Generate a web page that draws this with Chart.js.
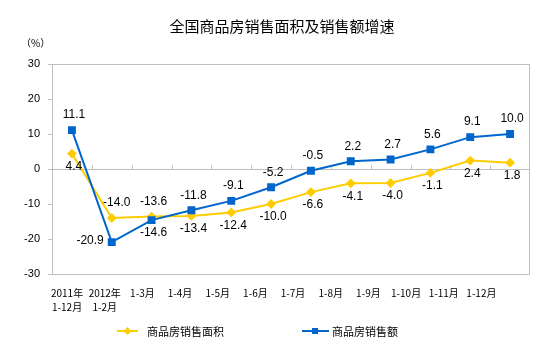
<!DOCTYPE html>
<html>
<head>
<meta charset="utf-8">
<script src="https://cdn.jsdelivr.net/npm/chart.js@4"></script>
<style>
  html, body { margin: 0; padding: 0; background: #fff; }
  #wrap { width: 554px; height: 352px; }
</style>
</head>
<body>
<div id="wrap"><canvas id="salesChart" width="554" height="352"></canvas></div>
<script>
const xLabels = [
    ['2011年', '1-12月'], ['2012年', '1-2月'], '1-3月', '1-4月', '1-5月', '1-6月',
    '1-7月', '1-8月', '1-9月', '1-10月', '1-11月', '1-12月'
];
const areaGrowth = [4.4, -14.0, -13.6, -13.4, -12.4, -10.0, -6.6, -4.1, -4.0, -1.1, 2.4, 1.8];
const salesGrowth = [11.1, -20.9, -14.6, -11.8, -9.1, -5.2, -0.5, 2.2, 2.7, 5.6, 9.1, 10.0];
const yTicks = [-30, -20, -10, 0, 10, 20, 30];

const seriesNames = ['商品房销售面积', '商品房销售额'];
const title = '全国商品房销售面积及销售额增速';

const yellow = '#FFCC00';
const blue = '#0066CC';
const gray = '#BFBFBF';
const cjk = '"Noto Sans CJK SC", "Noto Sans", sans-serif';

// where each value label sits relative to its point
const areaLabelPos = ['below', 'above', 'above', 'below', 'below', 'below', 'below', 'below', 'below', 'below', 'below', 'below'];
const salesLabelPos = ['above', 'left', 'below', 'above', 'above', 'above', 'above', 'above', 'above', 'above', 'above', 'above'];

const decorPlugin = {
    id: 'decor',
    beforeDatasetsDraw(chart) {
        const { ctx, chartArea: a, scales } = chart;
        ctx.save();
        ctx.strokeStyle = gray;
        ctx.lineWidth = 1;
        ctx.strokeRect(a.left + 0.5, a.top + 0.5, a.right - a.left - 1, a.bottom - a.top);
        // small category ticks on the zero line
        const y0 = Math.round(scales.y.getPixelForValue(0)) + 0.5;
        ctx.beginPath();
        for (let i = 1; i < xLabels.length; i++) {
            const x = Math.round((scales.x.getPixelForValue(i - 1) + scales.x.getPixelForValue(i)) / 2) + 0.5;
            ctx.moveTo(x, y0);
            ctx.lineTo(x, y0 - 4);
        }
        ctx.stroke();
        ctx.restore();
    },
    afterDatasetsDraw(chart) {
        const { ctx } = chart;
        ctx.save();
        ctx.fillStyle = '#000';
        ctx.font = '12px "Liberation Sans", Arial, sans-serif';
        ctx.textBaseline = 'middle';
        const sets = [[0, areaLabelPos], [1, salesLabelPos]];
        sets.forEach(([di, posList]) => {
            const meta = chart.getDatasetMeta(di);
            const values = chart.data.datasets[di].data;
            meta.data.forEach((pt, i) => {
                const txt = values[i].toFixed(1);
                const pos = posList[i];
                if (pos === 'left') {
                    ctx.textAlign = 'right';
                    ctx.fillText(txt, pt.x - 8, pt.y - 1);
                } else {
                    ctx.textAlign = 'center';
                    ctx.fillText(txt, pt.x + (i === 1 ? 5 : 2), pos === 'above' ? pt.y - 15 : pt.y + 13);
                }
            });
        });

        // title and unit
        ctx.textAlign = 'center';
        ctx.font = '15px ' + cjk;
        ctx.fillText(title, 282, 26);
        ctx.textAlign = 'left';
        ctx.font = '10px ' + cjk;
        ctx.fillText('（%）', 21, 43);

        // legend
        const ly = 331;
        ctx.lineWidth = 2;
        ctx.strokeStyle = yellow;
        ctx.fillStyle = yellow;
        ctx.beginPath();
        ctx.moveTo(117, ly); ctx.lineTo(138, ly); ctx.stroke();
        ctx.beginPath();
        ctx.moveTo(127.5 - 4, ly); ctx.lineTo(127.5, ly - 4); ctx.lineTo(127.5 + 4, ly); ctx.lineTo(127.5, ly + 4);
        ctx.closePath(); ctx.fill();
        ctx.strokeStyle = blue;
        ctx.fillStyle = blue;
        ctx.beginPath();
        ctx.moveTo(302, ly); ctx.lineTo(329, ly); ctx.stroke();
        ctx.fillRect(312, ly - 3, 6, 6);
        ctx.fillStyle = '#000';
        ctx.font = '11px ' + cjk;
        ctx.fillText(seriesNames[0], 147, ly + 1);
        ctx.fillText(seriesNames[1], 332, ly + 1);
        ctx.restore();
    }
};

new Chart(document.getElementById('salesChart'), {
    type: 'line',
    data: {
        labels: xLabels,
        datasets: [{
            label: seriesNames[0],
            data: areaGrowth,
            borderColor: yellow,
            backgroundColor: yellow,
            borderWidth: 2,
            pointStyle: 'rectRot',
            pointRadius: 3.5,
            pointHoverRadius: 3.5,
            tension: 0,
            order: 1
        }, {
            label: seriesNames[1],
            data: salesGrowth,
            borderColor: blue,
            backgroundColor: blue,
            borderWidth: 2,
            pointStyle: 'rect',
            pointRadius: 4.2,
            pointHoverRadius: 4.2,
            tension: 0,
            order: 0
        }]
    },
    options: {
        responsive: false,
        animation: false,
        layout: { padding: { top: 64, right: 24, bottom: 30, left: 0 } },
        plugins: {
            legend: { display: false },
            title: { display: false },
            tooltip: { enabled: false }
        },
        scales: {
            x: {
                type: 'category',
                display: false,
                offset: true
            },
            xl: {
                type: 'linear',
                position: 'bottom',
                min: -0.4,
                max: 12.29,
                afterBuildTicks: axis => { axis.ticks = xLabels.map((l, i) => ({ value: i })); },
                afterFit: axis => { axis.height = 48; },
                grid: { display: false },
                border: { display: false },
                ticks: {
                    autoSkip: false,
                    maxRotation: 0,
                    padding: 5,
                    color: '#000',
                    font: { family: cjk, size: 10, lineHeight: 1.33 },
                    callback: (value, index) => xLabels[index]
                }
            },
            y: {
                min: -30,
                max: 30,
                afterBuildTicks: axis => { axis.ticks = yTicks.map(v => ({ value: v })); },
                afterFit: axis => { axis.width = 52; },
                border: { display: true, color: gray },
                grid: {
                    drawOnChartArea: true,
                    color: c => (c.tick && c.tick.value === 0 ? gray : 'rgba(0,0,0,0)'),
                    tickColor: gray,
                    tickLength: 4
                },
                ticks: {
                    padding: 8,
                    color: '#000',
                    font: { family: '"Liberation Sans", Arial, sans-serif', size: 11 }
                }
            }
        }
    },
    plugins: [decorPlugin]
});
</script>
</body>
</html>
